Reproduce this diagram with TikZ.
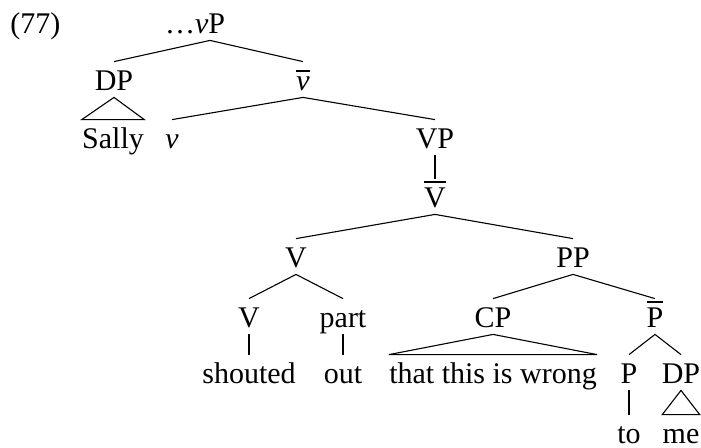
\documentclass[tikz,border=0pt]{standalone}
\usepackage{fontspec}
\setmainfont{Liberation Serif}
\newcommand{\barred}[1]{\leavevmode\vbox{\hrule height 1.2pt\kern 2pt\hbox{#1}}}
\begin{document}
\begin{tikzpicture}[x=.5pt,y=-.5pt,font=\fontsize{15}{17}\selectfont,
  lbl/.style={anchor=base,inner sep=0pt,text height=14pt,text depth=3.5pt},
  branch/.style={line width=.55pt},
  unary/.style={line width=.85pt}]
\useasboundingbox (0,0) rectangle (701,447);
\node[lbl,anchor=base west] (ex) at (10,33) {(77)};
\node[lbl] (vP) at (210,33) {\llap{\ldots}\textit{v}P};
\node[lbl] (DPa) at (114,90) {DP};
\node[lbl] (vbar) at (303,90) {\barred{\textit{v}}};
\node[lbl] (Sally) at (113,148) {Sally};
\node[lbl] (v) at (172,148) {\textit{v}};
\node[lbl] (VP) at (435,148) {VP};
\node[lbl] (Vbar) at (435,207) {\barred{V}};
\node[lbl] (Vb) at (296,267) {V};
\node[lbl] (PP) at (573,267) {PP};
\node[lbl] (Vc) at (249,327) {V};
\node[lbl] (part) at (343,327) {part};
\node[lbl] (CP) at (493,327) {CP};
\node[lbl] (Pbar) at (655,327) {\barred{P}};
\node[lbl] (shouted) at (249,383) {shouted};
\node[lbl] (out) at (343,383) {out};
\node[lbl] (wrong) at (493,383) {that this is wrong};
\node[lbl] (P) at (629,383) {P};
\node[lbl] (DPb) at (681,383) {DP};
\node[lbl] (to) at (629,443) {to};
\node[lbl] (me) at (681,443) {me};
\draw[branch] (DPa.north) -- (vP.south) -- (vbar.north);
\draw[branch] (v.north) -- (vbar.south) -- (VP.north);
\draw[branch] (Vb.north) -- (Vbar.south) -- (PP.north);
\draw[branch] (Vc.north) -- (Vb.south) -- (part.north);
\draw[branch] (CP.north) -- (PP.south) -- (Pbar.north);
\draw[branch] (P.north) -- (Pbar.south) -- (DPb.north);
\draw[unary] (VP.south) -- (Vbar.north);
\draw[unary] (Vc.south) -- (shouted.north);
\draw[unary] (part.south) -- (out.north);
\draw[unary] (P.south) -- (to.north);
\draw[branch] (DPa.south) -- (Sally.north west) -- (Sally.north east) -- cycle;
\draw[unary] (Sally.north west) -- (Sally.north east);
\draw[branch] (CP.south) -- (wrong.north west) -- (wrong.north east) -- cycle;
\draw[unary] (wrong.north west) -- (wrong.north east);
\draw[branch] (DPb.south) -- (me.north west) -- (me.north east) -- cycle;
\draw[unary] (me.north west) -- (me.north east);
\end{tikzpicture}
\end{document}
